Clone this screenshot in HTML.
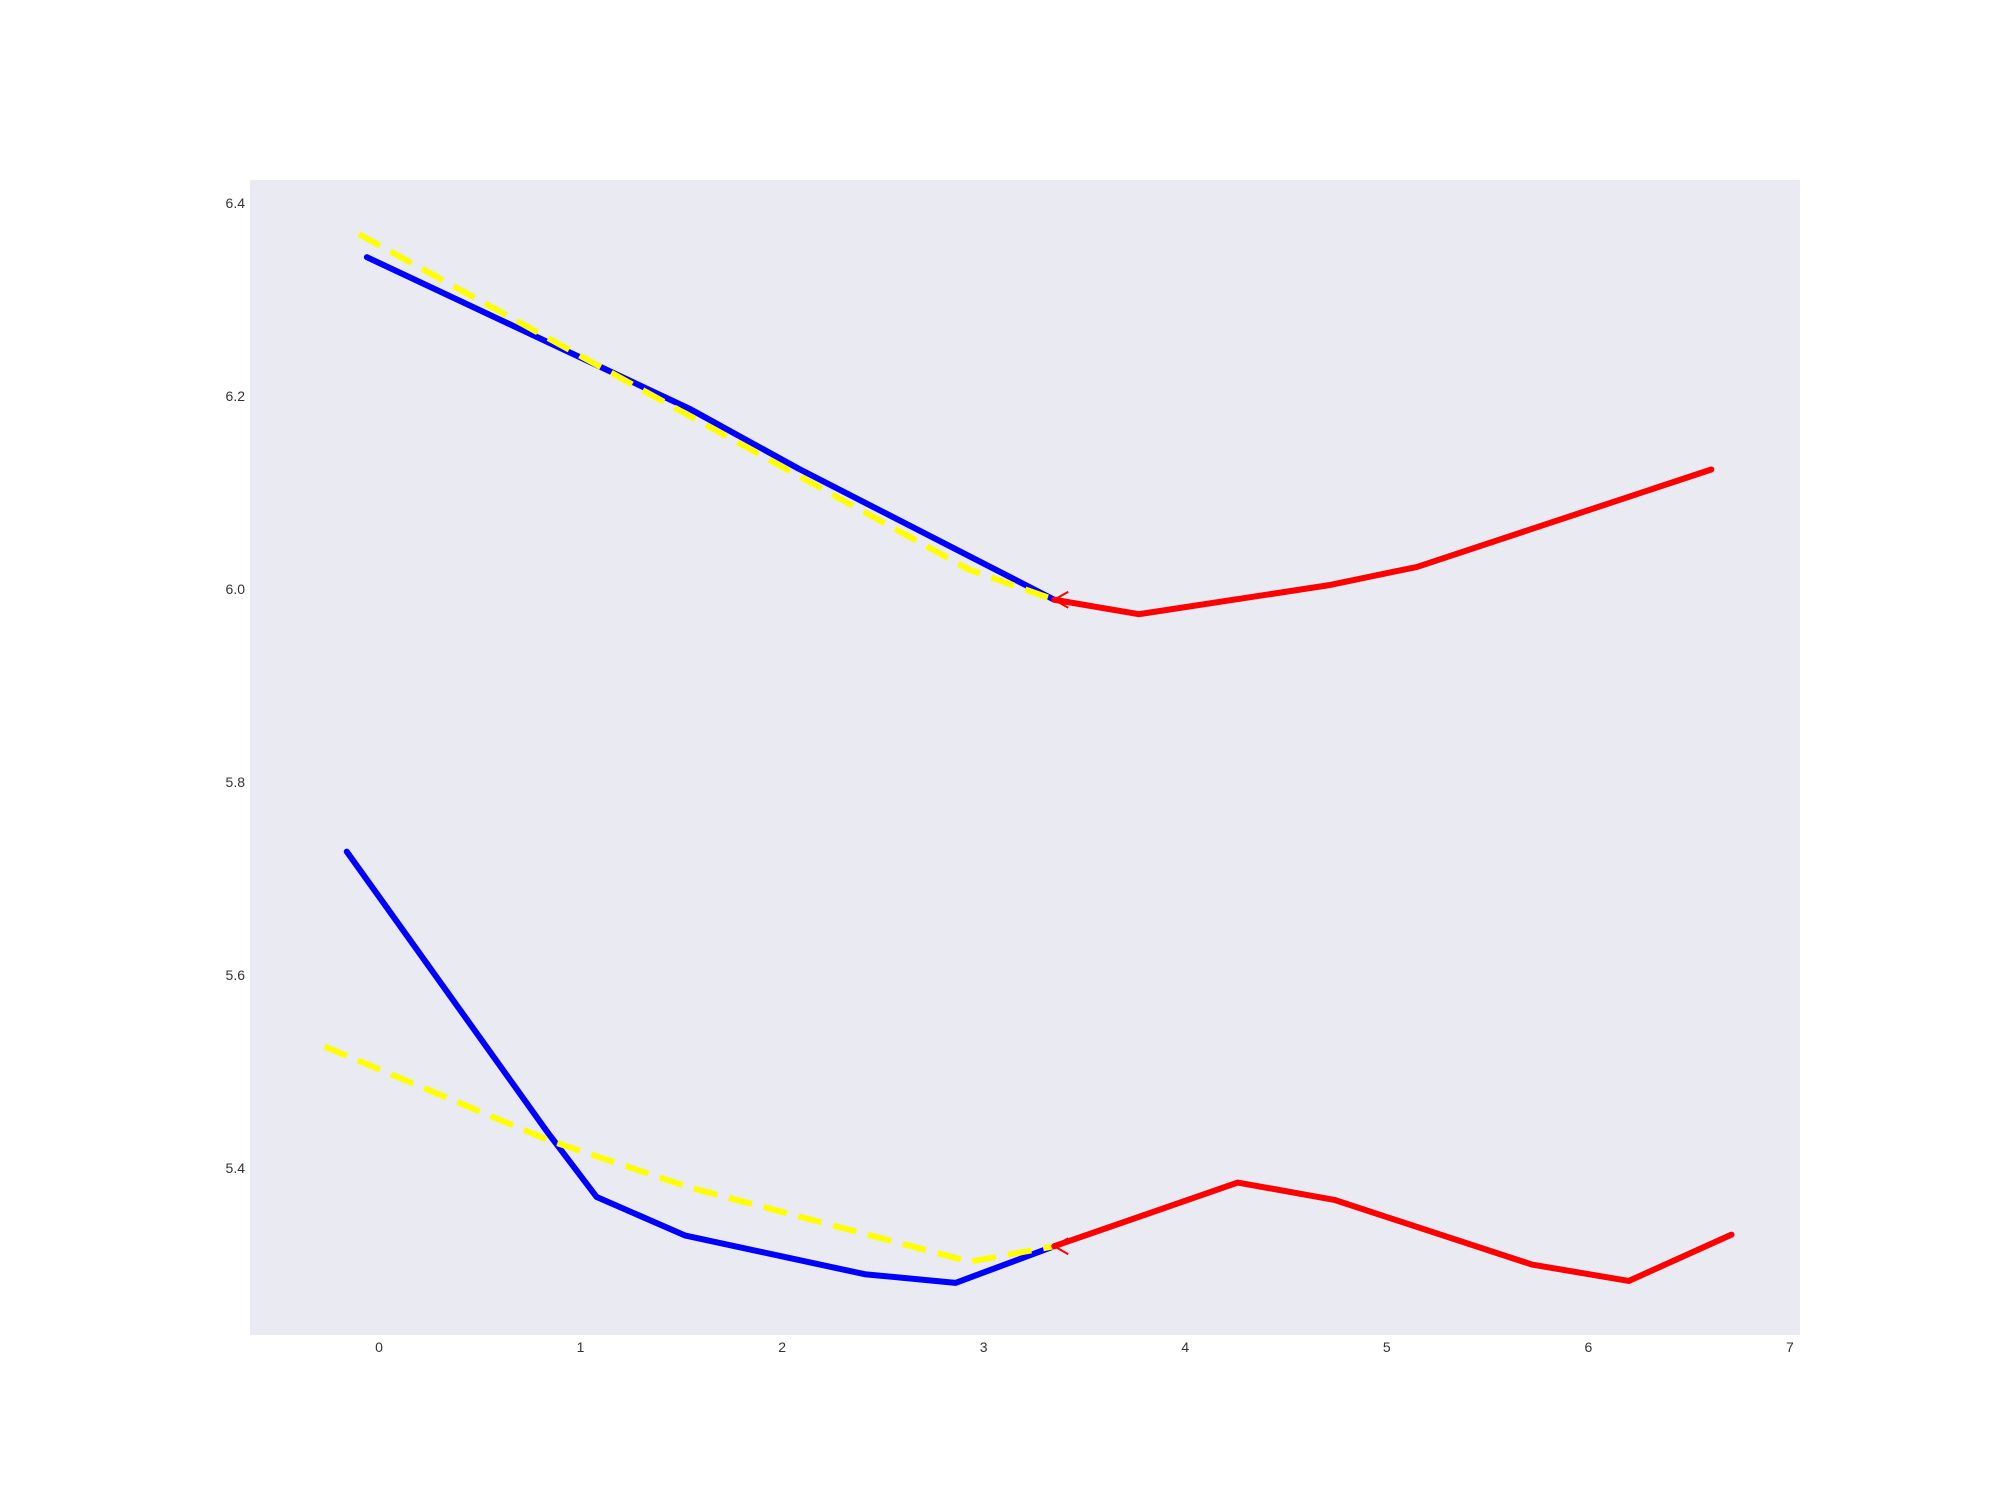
<!DOCTYPE html>
<html><head><meta charset="utf-8"><style>
html,body{margin:0;padding:0;background:#fff;}
svg{display:block;font-family:"Liberation Sans",sans-serif;}
</style></head><body>
<svg id="chart" width="2000" height="1500">
<rect x="250" y="180" width="1550" height="1155" fill="#eaeaf2"/>
<g id="ticks"></g><g id="series"></g>
</svg>
<script>
const xTicks = [0,1,2,3,4,5,6,7];
const yTicks = [5.4,5.6,5.8,6.0,6.2,6.4];
const upperBlueX = [-0.06,1.54,2.08,3.35];
const upperBlueY = [6.344,6.187,6.125,5.989];
const upperYellowX = [-0.10,2.93,3.35];
const upperYellowY = [6.368,6.020,5.989];
const upperRedX = [3.35,3.77,4.71,5.15,6.61];
const upperRedY = [5.989,5.974,6.004,6.023,6.124];
const lowerBlueX = [-0.16,0.84,1.08,1.52,2.41,2.86,3.35];
const lowerBlueY = [5.728,5.436,5.370,5.330,5.290,5.281,5.319];
const lowerYellowX = [-0.27,0.84,1.54,2.93,3.35];
const lowerYellowY = [5.526,5.429,5.380,5.303,5.319];
const lowerRedX = [3.35,4.26,4.74,5.72,6.20,6.71];
const lowerRedY = [5.319,5.385,5.367,5.300,5.283,5.331];

const X0=250,X1=1800,Y0=180,Y1=1335;
const xMin=-0.64,xMax=7.05,yMin=5.227,yMax=6.424;
const sx=v=>X0+(v-xMin)/(xMax-xMin)*(X1-X0);
const sy=v=>Y1-(v-yMin)/(yMax-yMin)*(Y1-Y0);
const NS="http://www.w3.org/2000/svg";
const ticks=document.getElementById('ticks');
const series=document.getElementById('series');
xTicks.forEach(t=>{
  const e=document.createElementNS(NS,'text');
  e.setAttribute('x',sx(t));e.setAttribute('y',1352);
  e.setAttribute('text-anchor','middle');e.setAttribute('font-size','14');e.setAttribute('fill','#333');
  e.textContent=String(t);
  
  
  ticks.appendChild(e);
});
yTicks.forEach(t=>{
  const e=document.createElementNS(NS,'text');
  e.setAttribute('x',245);e.setAttribute('y',sy(t)+5);
  e.setAttribute('text-anchor','end');e.setAttribute('font-size','14');e.setAttribute('fill','#333');
  e.textContent=t.toFixed(1);
  
  
  ticks.appendChild(e);
});
function line(xs,ys,color,dash,name){
  const p=document.createElementNS(NS,'polyline');
  p.setAttribute('points',xs.map((x,i)=>sx(x)+','+sy(ys[i])).join(' '));
  p.setAttribute('fill','none');p.setAttribute('stroke',color);p.setAttribute('stroke-width','6');
  p.setAttribute('stroke-linejoin','round');
  if(dash){p.setAttribute('stroke-dasharray','24,12');}else{p.setAttribute('stroke-linecap','round');}
  
  
  series.appendChild(p);
}
function arrow(xv,yv,name){
  const x=sx(xv),y=sy(yv);
  const p=document.createElementNS(NS,'polyline');
  p.setAttribute('points',(x+14)+','+(y-8)+' '+x+','+y+' '+(x+14)+','+(y+8));
  p.setAttribute('fill','none');p.setAttribute('stroke','red');p.setAttribute('stroke-width','2');
  
  
  series.appendChild(p);
}
line(upperBlueX,upperBlueY,'blue',false,'upper-blue-line');
line(upperYellowX,upperYellowY,'yellow',true,'upper-yellow-dashed-line');
line(upperRedX,upperRedY,'red',false,'upper-red-line');
line(lowerBlueX,lowerBlueY,'blue',false,'lower-blue-line');
line(lowerYellowX,lowerYellowY,'yellow',true,'lower-yellow-dashed-line');
line(lowerRedX,lowerRedY,'red',false,'lower-red-line');
arrow(upperRedX[0],upperRedY[0],'upper-arrow-head');
arrow(lowerRedX[0],lowerRedY[0],'lower-arrow-head');
</script>
</body></html>
